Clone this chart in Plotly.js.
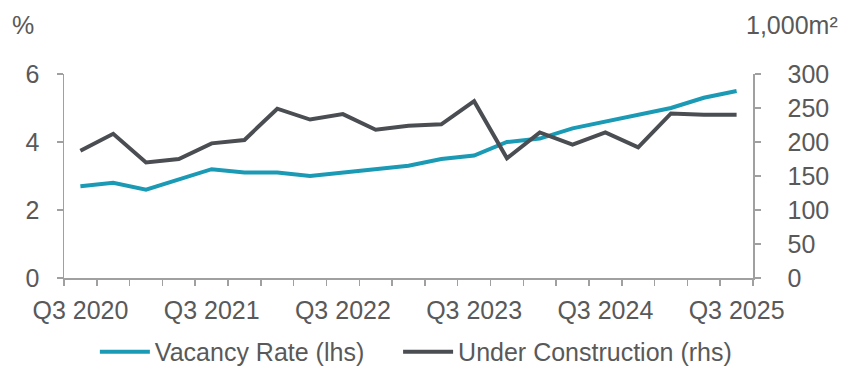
<!DOCTYPE html>
<html>
<head>
<meta charset="utf-8">
<script src="https://cdn.plot.ly/plotly-3.0.1.min.js"></script>
<style>
  html, body { margin: 0; padding: 0; background: #fff; }
  #chart { width: 847px; height: 380px; }
</style>
</head>
<body>
<div id="chart"></div>
<script>
const quarters = ["Q3 2020","Q4 2020","Q1 2021","Q2 2021","Q3 2021","Q4 2021","Q1 2022","Q2 2022",
  "Q3 2022","Q4 2022","Q1 2023","Q2 2023","Q3 2023","Q4 2023","Q1 2024","Q2 2024",
  "Q3 2024","Q4 2024","Q1 2025","Q2 2025","Q3 2025"];
const vacancyRate = [2.7, 2.8, 2.6, 2.9, 3.2, 3.1, 3.1, 3.0, 3.1, 3.2, 3.3, 3.5, 3.6, 4.0, 4.1, 4.4, 4.6, 4.8, 5.0, 5.3, 5.5];
const underConstruction = [187, 212, 170, 175, 198, 203, 249, 233, 241, 218, 224, 226, 260, 176, 214, 196, 214, 192, 242, 240, 240];
const labelledQuarters = ["Q3 2020","Q3 2021","Q3 2022","Q3 2023","Q3 2024","Q3 2025"];
const tickText = quarters.map(q => labelledQuarters.includes(q) ? q : "");

const FONT = "Liberation Sans, Arial, sans-serif";
const TXT = "#595959";
const AX = "#a0a0a0";

const traces = [
  { x: quarters, y: vacancyRate, name: "Vacancy Rate (lhs)", type: "scatter", mode: "lines",
    line: { color: "#1b9ab5", width: 4 }, yaxis: "y", legend: "legend" },
  { x: quarters, y: underConstruction, name: "Under Construction (rhs)", type: "scatter", mode: "lines",
    line: { color: "#4a4d51", width: 4 }, yaxis: "y2", legend: "legend2" }
];

const legendBase = { orientation: "h", xref: "container", yref: "container", xanchor: "left",
  y: 0.0737, yanchor: "middle", font: { family: FONT, size: 25, color: TXT }, itemwidth: 50,
  bgcolor: "rgba(0,0,0,0)" };

const layout = {
  width: 847, height: 380,
  margin: { l: 64, r: 94, t: 74, b: 102 },
  paper_bgcolor: "#fff", plot_bgcolor: "#fff",
  font: { family: FONT, size: 25, color: TXT },
  showlegend: true,
  legend: Object.assign({}, legendBase, { x: 0.112 }),
  legend2: Object.assign({}, legendBase, { x: 0.470 }),
  xaxis: {
    type: "category", range: [-0.5, 20.5], tickson: "boundaries",
    tickmode: "array", tickvals: quarters, ticktext: tickText,
    ticks: "outside", ticklen: 6, tickcolor: AX, tickwidth: 1.5,
    showline: true, linecolor: AX, linewidth: 1.5, showgrid: false, zeroline: false,
    tickangle: 0, ticklabelstandoff: 9, tickfont: { size: 25, color: TXT }
  },
  yaxis: {
    range: [0, 6], dtick: 2, tick0: 0, ticks: "outside", ticklen: 6, tickcolor: AX, tickwidth: 1.5,
    showline: true, linecolor: AX, linewidth: 1.5, showgrid: false, zeroline: false,
    ticklabelstandoff: 12, tickfont: { size: 25, color: TXT }
  },
  yaxis2: {
    range: [0, 300], dtick: 50, tick0: 0, overlaying: "y", side: "right",
    ticks: "outside", ticklen: 6, tickcolor: AX, tickwidth: 1.5,
    showline: true, linecolor: AX, linewidth: 1.5, showgrid: false, zeroline: false,
    ticklabelstandoff: 22, tickfont: { size: 25, color: TXT }
  },
  annotations: [
    { text: "%", xref: "paper", yref: "paper", x: -0.078, y: 1.24, xanchor: "left", yanchor: "middle",
      showarrow: false, font: { size: 25, color: TXT } },
    { text: "1,000m²", xref: "paper", yref: "paper", x: 1.126, y: 1.24, xanchor: "right", yanchor: "middle",
      showarrow: false, font: { size: 25, color: TXT } }
  ]
};

Plotly.newPlot("chart", traces, layout, { displayModeBar: false, staticPlot: true });
</script>
</body>
</html>
